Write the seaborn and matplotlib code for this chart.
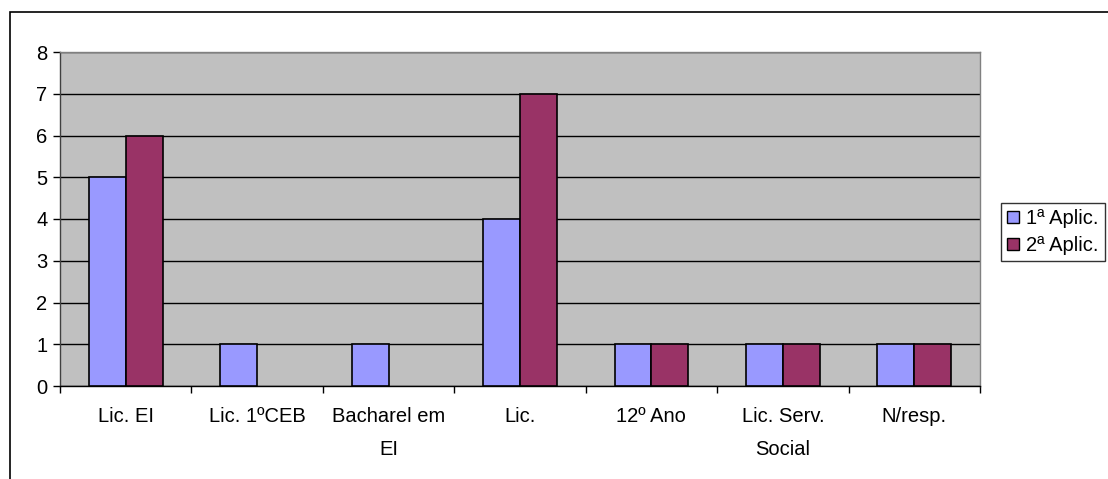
import matplotlib
matplotlib.use("Agg")
import matplotlib.pyplot as plt
import seaborn as sns
import pandas as pd
from matplotlib.patches import Rectangle, Patch

categories = ["Lic. EI", "Lic. 1ºCEB", "Bacharel em\nEI", "Lic.", "12º Ano", "Lic. Serv.\nSocial", "N/resp."]
series_names = ["1ª Aplic.", "2ª Aplic."]
aplic1 = [5, 1, 1, 4, 1, 1, 1]
aplic2 = [6, 0, 0, 7, 1, 1, 1]
yticks = [0, 1, 2, 3, 4, 5, 6, 7, 8]
colors = ["#9999FF", "#993366"]

df = pd.DataFrame({
    "cat": categories * 2,
    "serie": [series_names[0]] * len(categories) + [series_names[1]] * len(categories),
    "val": aplic1 + aplic2,
})

sns.set_theme(style="white")
plt.rcParams["font.family"] = ["Liberation Sans", "DejaVu Sans"]
plt.rcParams["text.color"] = "black"
plt.rcParams["xtick.color"] = "black"
plt.rcParams["ytick.color"] = "black"

W, H = 1108, 479
FS = 14.5
fig = plt.figure(figsize=(W / 100, H / 100), dpi=100)
ax = fig.add_axes([60 / W, 1 - 386 / H, (980 - 60) / W, (386 - 52) / H])
ax.set_facecolor("#C0C0C0")

sns.barplot(data=df, x="cat", y="val", hue="serie", palette=colors, width=0.56,
            saturation=1, edgecolor="black", linewidth=1.2, ax=ax, legend=False, zorder=3)
for p in ax.patches:
    if p.get_height() == 0:
        p.set_visible(False)

ax.set_ylim(0, 8)
ax.set_xlim(-0.5, len(categories) - 0.5)
ax.set_yticks(yticks)
ax.yaxis.grid(True, color="black", linewidth=1, zorder=1)
ax.set_axisbelow(True)
ax.set_xlabel("")
ax.set_ylabel("")
ax.tick_params(axis="y", labelsize=FS, length=5, width=1, color="black", left=True, pad=4)
ax.tick_params(axis="x", labelsize=FS, length=0, pad=15)
ax.set_xticks(range(len(categories)))
ax.set_xticklabels(categories, linespacing=1.95)
ax.set_xticks([i - 0.5 for i in range(len(categories) + 1)], minor=True)
ax.tick_params(axis="x", which="minor", length=5, width=1, color="black", bottom=True)

for s in ["top", "right"]:
    ax.spines[s].set_color("#808080")
    ax.spines[s].set_linewidth(1)
ax.spines["left"].set_color("#404040")
ax.spines["bottom"].set_color("black")
ax.spines["left"].set_linewidth(1)
ax.spines["bottom"].set_linewidth(1)

handles = [Patch(facecolor=c, edgecolor="black", linewidth=1) for c in colors]
leg = fig.legend(handles, series_names, loc="upper left",
                 bbox_to_anchor=(1001 / W, 1 - 203 / H), frameon=True, fontsize=FS,
                 handlelength=0.6, handleheight=0.6, handletextpad=0.35,
                 borderpad=0.3, labelspacing=0.4, fancybox=False, borderaxespad=0)
leg.get_frame().set_edgecolor("black")
leg.get_frame().set_linewidth(1)

fig.patches.append(Rectangle((10 / W, -0.05), 1.5, 1 - 12 / H + 0.05, transform=fig.transFigure,
                             fill=False, edgecolor="black", linewidth=1.2))

fig.savefig("out.png", dpi=100)
